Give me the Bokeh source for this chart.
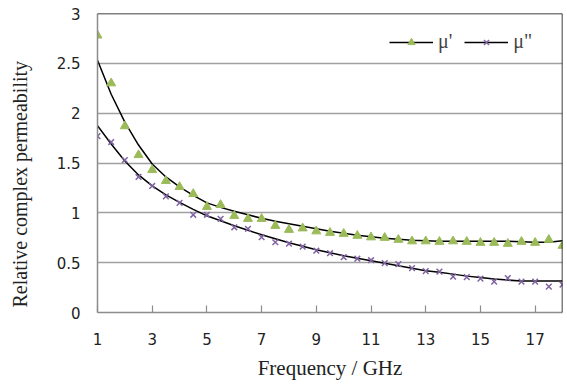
import math
from bokeh.plotting import figure
from bokeh.models import Range1d, FixedTicker, Span, Legend, LegendItem, Title
from bokeh.embed import file_html
from bokeh.resources import INLINE

# ---- data ----
freq = [1, 1.5, 2, 2.5, 3, 3.5, 4, 4.5, 5, 5.5, 6, 6.5, 7, 7.5, 8, 8.5, 9, 9.5,
        10, 10.5, 11, 11.5, 12, 12.5, 13, 13.5, 14, 14.5, 15, 15.5, 16, 16.5, 17, 17.5, 18]

mu_real = [2.78, 2.30, 1.87, 1.58, 1.43, 1.32, 1.26, 1.19, 1.06, 1.08, 0.97, 0.94, 0.94,
           0.87, 0.83, 0.845, 0.815, 0.80, 0.79, 0.77, 0.755, 0.75, 0.73, 0.715, 0.715,
           0.71, 0.715, 0.71, 0.70, 0.70, 0.69, 0.71, 0.70, 0.73, 0.67]

mu_imag = [1.77, 1.71, 1.53, 1.36, 1.27, 1.165, 1.10, 0.98, 0.98, 0.94, 0.855, 0.84, 0.755,
           0.705, 0.69, 0.66, 0.62, 0.595, 0.555, 0.54, 0.525, 0.495, 0.485, 0.445, 0.415,
           0.41, 0.36, 0.355, 0.34, 0.31, 0.345, 0.31, 0.31, 0.26, 0.28]

# black fitted curves at the same frequencies
fit_real = [2.53, 2.19, 1.91, 1.68, 1.49, 1.36, 1.26, 1.175, 1.10, 1.055, 1.015, 0.98, 0.945,
            0.915, 0.89, 0.865, 0.84, 0.815, 0.795, 0.775, 0.76, 0.745, 0.735, 0.725, 0.72,
            0.715, 0.715, 0.715, 0.715, 0.715, 0.715, 0.71, 0.705, 0.705, 0.72]

fit_imag = [1.875, 1.69, 1.52, 1.38, 1.27, 1.18, 1.105, 1.035, 0.97, 0.92, 0.87, 0.825, 0.78,
            0.74, 0.70, 0.665, 0.63, 0.60, 0.57, 0.545, 0.52, 0.495, 0.47, 0.445, 0.42,
            0.405, 0.385, 0.365, 0.35, 0.335, 0.325, 0.315, 0.315, 0.315, 0.315]

x_ticks = [1, 3, 5, 7, 9, 11, 13, 15, 17]
y_ticks = [0, 0.5, 1, 1.5, 2, 2.5, 3]
y_tick_labels = ["0", "0.5", "1", "1.5", "2", "2.5", "3"]
x_title = "Frequency / GHz"
y_title = "Relative complex permeability"
series_names = ["\u03bc'", "\u03bc\""]

GREEN = "#9BBB59"
PURPLE = "#8064A2"
AXIS = "#8c8c8c"
GRID = "#a0a0a0"
TICK_FONT = "DejaVu Sans"
SERIF = "Liberation Serif"

p = figure(width=567, height=384, x_range=Range1d(1, 18), y_range=Range1d(0, 3),
           output_backend="svg", toolbar_location=None,
           min_border_left=97, min_border_right=5, min_border_top=13, min_border_bottom=72)
p.outline_line_color = None
p.background_fill_color = "white"
p.border_fill_color = "white"

# axes
p.xaxis.ticker = FixedTicker(ticks=x_ticks)
p.yaxis.ticker = FixedTicker(ticks=y_ticks)
p.yaxis.major_label_overrides = {t: s for t, s in zip(y_ticks, y_tick_labels)}
p.xaxis.major_label_overrides = {t: str(t) for t in x_ticks}
for ax in (p.xaxis, p.yaxis):
    ax.axis_line_color = AXIS
    ax.axis_line_width = 1.5
    ax.major_tick_line_color = AXIS
    ax.major_tick_line_width = 1.2
    ax.minor_tick_line_color = None
    ax.major_label_text_font = TICK_FONT
    ax.major_label_text_font_size = "15px"
    ax.major_label_text_color = "#222222"
p.xaxis.major_tick_in = 7
p.xaxis.major_tick_out = 0
p.xaxis.major_label_standoff = 20
p.yaxis.major_tick_in = 0
p.yaxis.major_tick_out = 0
p.yaxis.major_label_standoff = 17
# blank spacer label: widens the y-axis panel so the side title sits further left
p.yaxis.axis_label = " "
p.yaxis.axis_label_text_font_size = "2px"
p.yaxis.axis_label_standoff = 13

p.xaxis.axis_label = x_title
p.xaxis.axis_label_standoff = 8
p.xaxis.axis_label_text_font = SERIF
p.xaxis.axis_label_text_font_size = "21px"
p.xaxis.axis_label_text_font_style = "normal"
p.xaxis.axis_label_text_color = "#222222"

# grid
p.xgrid.grid_line_color = None
p.ygrid.ticker = FixedTicker(ticks=y_ticks)
p.ygrid.grid_line_color = GRID
p.ygrid.grid_line_width = 1.5

# top / right frame borders
p.add_layout(Span(location=3, dimension="width", line_color="black", line_width=1.5))
p.add_layout(Span(location=18, dimension="height", line_color="black", line_width=1.5))

# data
f1 = p.line(freq, fit_real, line_color="black", line_width=1.5)
f2 = p.line(freq, fit_imag, line_color="black", line_width=1.5)
s1 = p.scatter(freq, mu_real, marker="triangle", size=9, fill_color=GREEN, line_color=GREEN)
s2 = p.scatter(freq, mu_imag, marker="x", size=8, line_color=PURPLE, line_width=1.5)

legend = Legend(items=[LegendItem(label=series_names[0], renderers=[f1, s1]),
                       LegendItem(label=series_names[1], renderers=[f2, s2])],
                orientation="horizontal", location=(292, 259),
                glyph_width=44, glyph_height=18, label_height=18, label_width=10,
                label_text_font=SERIF, label_text_font_size="20px",
                label_standoff=5, spacing=12, padding=8, margin=0,
                border_line_color=None, background_fill_alpha=0)
p.add_layout(legend)

# y-axis title as a side title so it can sit slightly below the frame centre
p.add_layout(Title(text=y_title, align="left", offset=5, standoff=10,
                   text_font=SERIF, text_font_size="20px", text_font_style="normal",
                   text_color="#222222"), "left")

open("out.html", "w").write(file_html(p, INLINE))
